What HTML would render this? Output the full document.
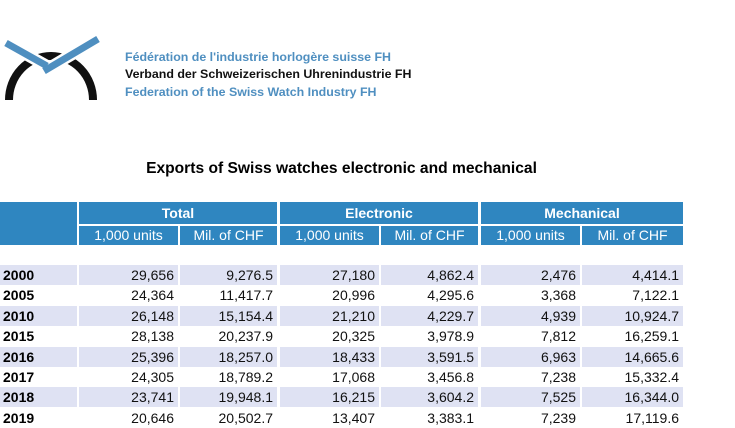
<!DOCTYPE html>
<html><head><meta charset="utf-8"><style>
body{margin:0;width:735px;height:427px;background:#fff;font-family:"Liberation Sans",sans-serif;position:relative;overflow:hidden}
.a{position:absolute}
.logo-t{left:125px;font-size:12.4px;font-weight:bold;line-height:17px}
.hd{background:#2f86c0;color:#fff;position:absolute;text-align:center;font-size:14px}
.cell{position:absolute;text-align:right;font-size:14px;color:#111;box-sizing:border-box;padding-right:4px;line-height:20px}
.yr{position:absolute;left:0;font-weight:bold;font-size:14px;line-height:20px;padding-left:3px;box-sizing:border-box}
</style></head><body>
<svg class="a" style="left:0;top:35px" width="110" height="70">
<path d="M9 65 A42 44 0 0 1 93 65" fill="none" stroke="#111" stroke-width="8"/>
<path d="M6 8 L47 31" stroke="#fff" stroke-width="12"/>
<path d="M44 36 L98 4" stroke="#fff" stroke-width="12"/>
<path d="M6 8 L47 31" stroke="#4f8fc0" stroke-width="7"/>
<path d="M44 36 L98 4" stroke="#4f8fc0" stroke-width="7"/>
</svg>
<div class="a logo-t" style="top:49px;color:#4f8fc0">Fédération de l'industrie horlogère suisse FH</div>
<div class="a logo-t" style="top:66px;color:#111">Verband der Schweizerischen Uhrenindustrie FH</div>
<div class="a logo-t" style="top:84px;color:#4f8fc0">Federation of the Swiss Watch Industry FH</div>
<div class="a" style="left:0;width:683px;top:160px;text-align:center;font-weight:bold;font-size:15.6px">Exports of Swiss watches electronic and mechanical</div>
<div class="hd" style="left:0;top:202px;width:77px;height:43px"></div>
<div class="hd" style="left:79px;top:202px;width:198px;height:22px;line-height:22px;font-weight:bold">Total</div>
<div class="hd" style="left:280px;top:202px;width:198px;height:22px;line-height:22px;font-weight:bold">Electronic</div>
<div class="hd" style="left:481px;top:202px;width:202px;height:22px;line-height:22px;font-weight:bold">Mechanical</div>
<div class="hd" style="left:79px;top:226px;width:99px;height:19px;line-height:19px">1,000 units</div>
<div class="hd" style="left:180px;top:226px;width:97px;height:19px;line-height:19px">Mil. of CHF</div>
<div class="hd" style="left:280px;top:226px;width:99px;height:19px;line-height:19px">1,000 units</div>
<div class="hd" style="left:381px;top:226px;width:97px;height:19px;line-height:19px">Mil. of CHF</div>
<div class="hd" style="left:481px;top:226px;width:99px;height:19px;line-height:19px">1,000 units</div>
<div class="hd" style="left:582px;top:226px;width:101px;height:19px;line-height:19px">Mil. of CHF</div>
<div id="t"></div>
<script>
var d=[["2000","29,656","9,276.5","27,180","4,862.4","2,476","4,414.1"],
["2005","24,364","11,417.7","20,996","4,295.6","3,368","7,122.1"],
["2010","26,148","15,154.4","21,210","4,229.7","4,939","10,924.7"],
["2015","28,138","20,237.9","20,325","3,978.9","7,812","16,259.1"],
["2016","25,396","18,257.0","18,433","3,591.5","6,963","14,665.6"],
["2017","24,305","18,789.2","17,068","3,456.8","7,238","15,332.4"],
["2018","23,741","19,948.1","16,215","3,604.2","7,525","16,344.0"],
["2019","20,646","20,502.7","13,407","3,383.1","7,239","17,119.6"]];
var L=[0,79,180,280,381,481,582],W=[77,99,97,99,97,99,101],h="";
d.forEach(function(r,i){var y=265+i*20.4;var bg=i%2==0?"#dfe2f3":"#fff";
for(var j=0;j<7;j++){h+='<div class="'+(j?'cell':'yr')+'" style="left:'+L[j]+'px;width:'+W[j]+'px;top:'+y+'px;height:20px;background:'+bg+'">'+r[j]+'</div>';}});
document.getElementById("t").innerHTML=h;
</script>
</body></html>
